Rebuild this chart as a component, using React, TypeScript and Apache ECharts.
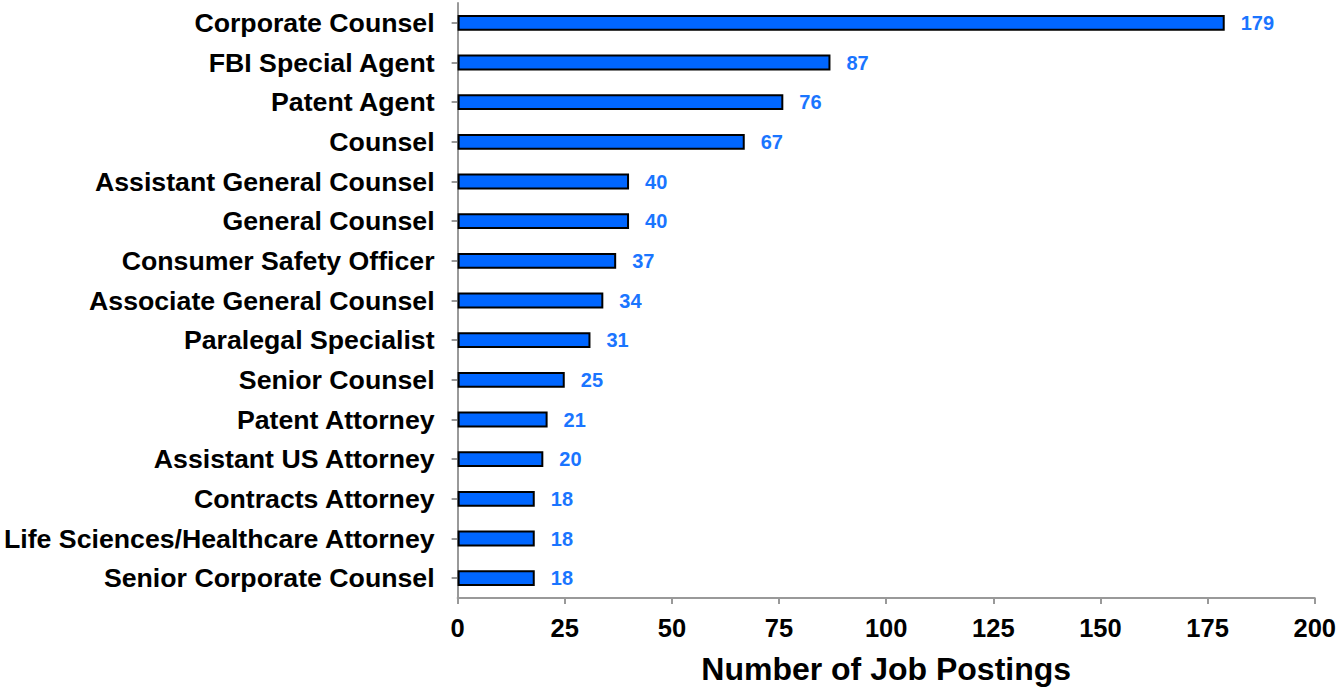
import React, { useEffect, useRef } from "react";
import * as echarts from "echarts";

const categories = [
  "Corporate Counsel",
  "FBI Special Agent",
  "Patent Agent",
  "Counsel",
  "Assistant General Counsel",
  "General Counsel",
  "Consumer Safety Officer",
  "Associate General Counsel",
  "Paralegal Specialist",
  "Senior Counsel",
  "Patent Attorney",
  "Assistant US Attorney",
  "Contracts Attorney",
  "Life Sciences/Healthcare Attorney",
  "Senior Corporate Counsel",
];
const postings = [179, 87, 76, 67, 40, 40, 37, 34, 31, 25, 21, 20, 18, 18, 18];
const xTicks = { min: 0, max: 200, interval: 25 };

export default function App() {
  const ref = useRef<HTMLDivElement>(null);
  useEffect(() => {
    if (!ref.current) return;
    const chart = echarts.init(ref.current, null, { renderer: "svg" });
    const font = "Liberation Sans, Arial, Helvetica, sans-serif";
    chart.setOption({
      animation: false,
      grid: { left: 456, right: 15, top: 3, bottom: 94, containLabel: false },
      xAxis: {
        type: "value",
        min: xTicks.min,
        max: xTicks.max,
        interval: xTicks.interval,
        name: "Number of Job Postings",
        nameLocation: "middle",
        nameGap: 55,
        nameTextStyle: { fontFamily: font, fontWeight: "bold", fontSize: 32, color: "#000" },
        axisLine: { show: true, lineStyle: { color: "#999", width: 2 } },
        axisTick: { show: true, length: 6, lineStyle: { color: "#999", width: 2 } },
        axisLabel: { fontFamily: font, fontWeight: "bold", fontSize: 25.5, color: "#000", margin: 17 },
        splitLine: { show: false },
      },
      yAxis: {
        type: "category",
        data: categories,
        inverse: true,
        axisLine: { show: true, lineStyle: { color: "#999", width: 2 } },
        axisTick: { show: true, length: 6, alignWithLabel: true, lineStyle: { color: "#999", width: 2 } },
        axisLabel: { fontFamily: font, fontWeight: "bold", fontSize: 26.7, color: "#000", margin: 23 },
      },
      series: [
        {
          type: "bar",
          data: postings,
          barWidth: "40%",
          itemStyle: { color: "#0066FF", borderColor: "#000", borderWidth: 2 },
          label: {
            show: true,
            position: "right",
            distance: 16,
            fontFamily: font,
            fontWeight: "bold",
            fontSize: 20,
            color: "#1a75ff",
          },
        },
      ],
    });
    return () => chart.dispose();
  }, []);
  return <div ref={ref} style={{ width: 1339, height: 692, position: "absolute", left: 0, top: 0 }} />;
}
